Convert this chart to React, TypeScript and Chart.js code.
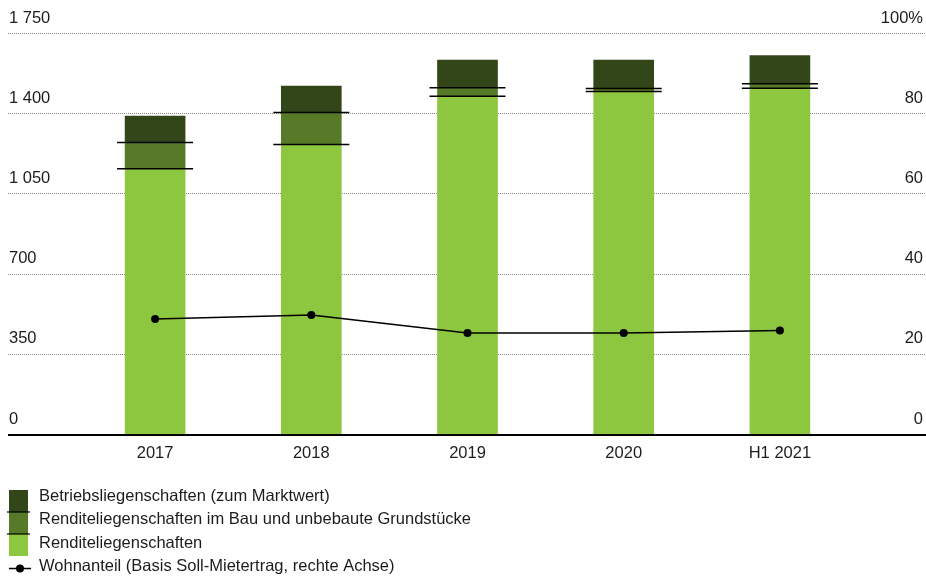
import React, { useEffect, useRef } from "react";
import { Chart, registerables } from "chart.js";

Chart.register(...registerables);

// ---- data ----
const categories = ["2017", "2018", "2019", "2020", "H1 2021"];
const renditeliegenschaften = [1158, 1263, 1474, 1495, 1509];
const renditeImBau = [114, 140, 37, 13, 19];
const betriebsliegenschaften = [115, 115, 121, 124, 124];
const wohnanteil = [28.7, 29.7, 25.2, 25.2, 25.8];

const leftTicks = [0, 350, 700, 1050, 1400, 1750];
const leftTickLabels = ["0", "350", "700", "1 050", "1 400", "1 750"];
const rightTicks = [0, 20, 40, 60, 80, 100];
const rightTickLabels = ["0", "20", "40", "60", "80", "100%"];

const seriesLabels = [
  "Renditeliegenschaften",
  "Renditeliegenschaften im Bau und unbebaute Grundstücke",
  "Betriebsliegenschaften (zum Marktwert)",
  "Wohnanteil (Basis Soll-Mietertrag, rechte Achse)",
];
const seriesColors = ["#8dc63f", "#567a28", "#33461a", "#000000"];

const FONT = '16.5px "Liberation Sans", Arial, sans-serif';
const TEXT = "#1c1c1c";

const decoPlugin = {
  id: "deco",
  beforeDatasetsDraw(chart: any) {
    const ctx = chart.ctx;
    const y = chart.scales.y;
    const y1 = chart.scales.y1;
    ctx.save();
    ctx.strokeStyle = "#8c8c8c";
    ctx.lineWidth = 1;
    ctx.setLineDash([1, 1]);
    leftTicks.forEach((v) => {
      if (v === 0) return;
      const py = Math.round(y.getPixelForValue(v)) + 0.5;
      ctx.beginPath();
      ctx.moveTo(8, py);
      ctx.lineTo(926, py);
      ctx.stroke();
    });
    ctx.setLineDash([]);
    ctx.fillStyle = TEXT;
    ctx.font = FONT;
    ctx.textBaseline = "middle";
    ctx.textAlign = "left";
    leftTicks.forEach((v, i) => {
      ctx.fillText(leftTickLabels[i], 9, y.getPixelForValue(v) - 15);
    });
    ctx.textAlign = "right";
    rightTicks.forEach((v, i) => {
      ctx.fillText(rightTickLabels[i], 923, y1.getPixelForValue(v) - 15);
    });
    ctx.restore();
  },
  afterDatasetsDraw(chart: any) {
    const ctx = chart.ctx;
    const x = chart.scales.x;
    const y = chart.scales.y;
    ctx.save();
    // separators at segment tops
    ctx.strokeStyle = "#000";
    ctx.lineWidth = 1.5;
    [0, 1].forEach((di) => {
      const meta = chart.getDatasetMeta(di);
      meta.data.forEach((el: any) => {
        const half = el.width / 2 + 8;
        ctx.beginPath();
        ctx.moveTo(el.x - half, el.y);
        ctx.lineTo(el.x + half, el.y);
        ctx.stroke();
      });
    });
    // baseline
    const by = y.getPixelForValue(0) + 1;
    ctx.lineWidth = 2;
    ctx.beginPath();
    ctx.moveTo(8, by);
    ctx.lineTo(926, by);
    ctx.stroke();
    // x labels
    ctx.fillStyle = TEXT;
    ctx.font = FONT;
    ctx.textAlign = "center";
    ctx.textBaseline = "middle";
    categories.forEach((c, i) => {
      ctx.fillText(c, x.getPixelForValue(i), by + 18);
    });
    // legend
    const ds = chart.data.datasets;
    const order = [2, 1, 0];
    const top = 490;
    const seg = 22;
    order.forEach((di, k) => {
      ctx.fillStyle = ds[di].backgroundColor;
      ctx.fillRect(9, top + k * seg, 19, seg);
    });
    ctx.strokeStyle = "#000";
    ctx.lineWidth = 1.2;
    [1, 2].forEach((k) => {
      ctx.beginPath();
      ctx.moveTo(7, top + k * seg);
      ctx.lineTo(30, top + k * seg);
      ctx.stroke();
    });
    ctx.fillStyle = TEXT;
    ctx.textAlign = "left";
    ctx.textBaseline = "middle";
    order.forEach((di, k) => {
      ctx.fillText(ds[di].label, 39, 496.5 + k * 23.4);
    });
    // line legend
    const ly = 568.5;
    ctx.strokeStyle = "#000";
    ctx.lineWidth = 1.5;
    ctx.beginPath();
    ctx.moveTo(9, ly);
    ctx.lineTo(31, ly);
    ctx.stroke();
    ctx.fillStyle = "#000";
    ctx.beginPath();
    ctx.arc(20, ly, 4, 0, Math.PI * 2);
    ctx.fill();
    ctx.fillStyle = TEXT;
    ctx.fillText(ds[3].label, 39, 566.5);
    ctx.restore();
  },
};

export default function App() {
  const ref = useRef<HTMLCanvasElement | null>(null);
  useEffect(() => {
    if (!ref.current) return;
    const chart = new Chart(ref.current, {
      type: "bar",
      data: {
        labels: categories,
        datasets: [
          {
            type: "bar",
            label: seriesLabels[0],
            data: renditeliegenschaften,
            backgroundColor: seriesColors[0],
            stack: "s",
            yAxisID: "y",
            barThickness: 60,
            order: 1,
          },
          {
            type: "bar",
            label: seriesLabels[1],
            data: renditeImBau,
            backgroundColor: seriesColors[1],
            stack: "s",
            yAxisID: "y",
            barThickness: 60,
            order: 1,
          },
          {
            type: "bar",
            label: seriesLabels[2],
            data: betriebsliegenschaften,
            backgroundColor: seriesColors[2],
            stack: "s",
            yAxisID: "y",
            barThickness: 60,
            order: 1,
          },
          {
            type: "line",
            label: seriesLabels[3],
            data: wohnanteil,
            borderColor: seriesColors[3],
            backgroundColor: seriesColors[3],
            borderWidth: 1.5,
            pointRadius: 4,
            pointBackgroundColor: "#000",
            pointBorderWidth: 0,
            tension: 0,
            yAxisID: "y1",
            order: 0,
          } as any,
        ],
      },
      options: {
        responsive: false,
        animation: false,
        layout: { padding: { left: 77, right: 68, top: 33, bottom: 145 } },
        plugins: { legend: { display: false }, tooltip: { enabled: false } },
        scales: {
          x: { display: false, stacked: true },
          y: { display: false, stacked: true, min: 0, max: 1750 },
          y1: { display: false, position: "right", min: 0, max: 100 },
        },
      },
      plugins: [decoPlugin],
    });
    return () => chart.destroy();
  }, []);
  return (
    <div style={{ position: "fixed", left: 0, top: 0, width: 926, height: 579, background: "#fff" }}>
      <canvas ref={ref} width={926} height={579} style={{ display: "block" }} />
    </div>
  );
}
